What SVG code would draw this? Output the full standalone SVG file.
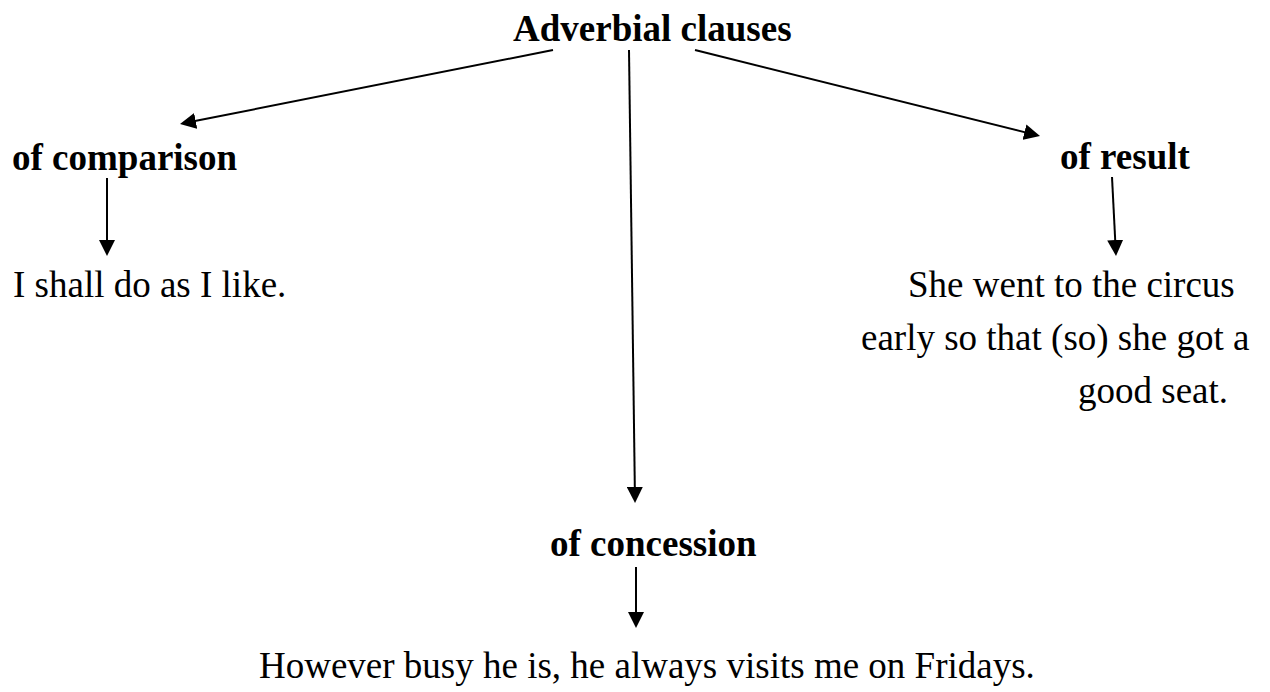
<svg xmlns="http://www.w3.org/2000/svg" width="1270" height="692" viewBox="0 0 1270 692">
  <style>
    .head { font-family: "Liberation Serif", "Times New Roman", serif; font-size: 37px; font-weight: bold; fill: #000; }
    .body { font-family: "Liberation Serif", "Times New Roman", serif; font-size: 37px; fill: #000; }
    .link { stroke: #000; stroke-width: 2; fill: none; marker-end: url(#arrow); }
  </style>
  <defs>
    <marker id="arrow" viewBox="0 0 16 16" refX="6" refY="8" markerWidth="16" markerHeight="16" markerUnits="userSpaceOnUse" orient="auto">
      <path d="M0,0 L16,8 L0,16 z" fill="#000"/>
    </marker>
  </defs>
  <rect width="1270" height="692" fill="#fff"/>

  <g id="root">
    <text class="head" x="513" y="41">Adverbial clauses</text>
  </g>

  <g id="comparison">
    <text class="head" x="12" y="170">of comparison</text>
  </g>
  <g id="comparison-example">
    <text class="body" x="13" y="297">I shall do as I like.</text>
  </g>

  <g id="result">
    <text class="head" x="1060" y="169">of result</text>
  </g>
  <g id="result-example">
    <text class="body" x="908" y="297">She went to the circus</text>
    <text class="body" x="861" y="350">early so that (so) she got a</text>
    <text class="body" x="1078" y="403">good seat.</text>
  </g>

  <g id="concession">
    <text class="head" x="550" y="556">of concession</text>
  </g>
  <g id="concession-example">
    <text class="body" x="259" y="678">However busy he is, he always visits me on Fridays.</text>
  </g>

  <g id="connectors">
    <line class="link" x1="553" y1="50" x2="189.8" y2="122.05"/>
    <line class="link" x1="695" y1="50" x2="1030.3" y2="133.6"/>
    <line class="link" x1="629" y1="50" x2="634.9" y2="493"/>
    <line class="link" x1="107" y1="178" x2="107" y2="246"/>
    <line class="link" x1="1112" y1="177" x2="1115.5" y2="246"/>
    <line class="link" x1="636" y1="567" x2="636" y2="618"/>
  </g>
</svg>
